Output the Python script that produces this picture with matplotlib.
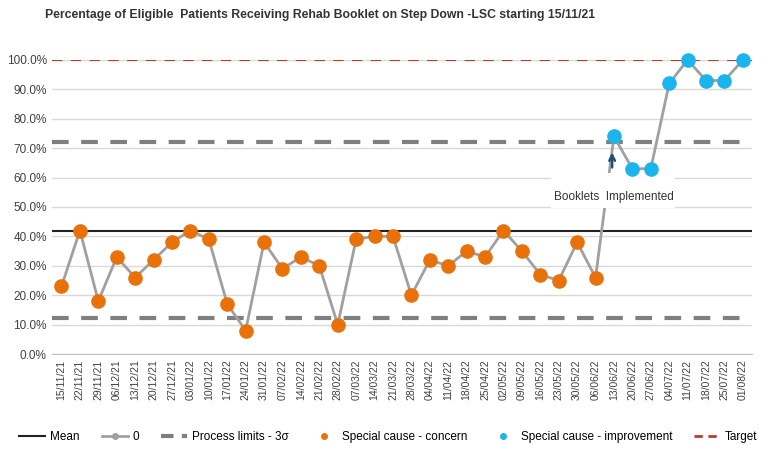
import matplotlib
matplotlib.use('Agg')
import matplotlib.pyplot as plt
from matplotlib.lines import Line2D
from matplotlib.patches import Rectangle

dates = ['15/11/21', '22/11/21', '29/11/21', '06/12/21', '13/12/21', '20/12/21', '27/12/21',
         '03/01/22', '10/01/22', '17/01/22', '24/01/22', '31/01/22', '07/02/22', '14/02/22',
         '21/02/22', '28/02/22', '07/03/22', '14/03/22', '21/03/22', '28/03/22', '04/04/22',
         '11/04/22', '18/04/22', '25/04/22', '02/05/22', '09/05/22', '16/05/22', '23/05/22',
         '30/05/22', '06/06/22', '13/06/22', '20/06/22', '27/06/22', '04/07/22', '11/07/22',
         '18/07/22', '25/07/22', '01/08/22']
pct = [0.23, 0.42, 0.18, 0.33, 0.26, 0.32, 0.38, 0.42, 0.39, 0.17, 0.08, 0.38, 0.29, 0.33,
       0.30, 0.10, 0.39, 0.40, 0.40, 0.20, 0.32, 0.30, 0.35, 0.33, 0.42, 0.35, 0.27, 0.25,
       0.38, 0.26, 0.74, 0.63, 0.63, 0.92, 1.00, 0.93, 0.93, 1.00]
# which points count as which special cause
concern = list(range(0, 30))
improvement = list(range(30, 38))

mean_val = 0.42
upper_limit = 0.72
lower_limit = 0.122
target = 1.0

plt.rcParams['font.family'] = ['Liberation Sans', 'DejaVu Sans']

fig = plt.figure(figsize=(7.69, 4.61), dpi=100)
ax = fig.add_axes([0.068, 0.232, 0.910, 0.638])

x = list(range(len(dates)))
ax.set_xlim(-0.5, len(dates) - 0.5)
ax.set_ylim(0, 1.0)

ax.axhline(mean_val, color='#222222', lw=1.5, zorder=3)
ax.axhline(upper_limit, color='#7f7f7f', lw=3, ls=(0, (4, 3)), zorder=3)
ax.axhline(lower_limit, color='#7f7f7f', lw=3, ls=(0, (4, 3)), zorder=3)
ax.axhline(target, color='#c0392b', lw=1.5, ls=(0, (5, 4)), zorder=3)

ax.plot(x, pct, color='#a0a0a0', lw=2, zorder=4, clip_on=False)
ax.plot([x[i] for i in concern], [pct[i] for i in concern], 'o', color='#e8710a',
        ms=9.5, zorder=6, clip_on=False)
ax.plot([x[i] for i in improvement], [pct[i] for i in improvement], 'o', color='#1cb4ec',
        ms=9.5, zorder=6, clip_on=False)

# annotation box hiding the lines behind it
ax.add_patch(Rectangle((26.6, 0.497), 6.7, 0.12, facecolor='white', edgecolor='none', zorder=5))
ax.text(30.0, 0.535, 'Booklets  Implemented', ha='center', va='center', fontsize=8.5,
        color='#333333', zorder=7)
ax.annotate('', xy=(29.9, 0.695), xytext=(29.9, 0.625),
            arrowprops=dict(arrowstyle='->', color='#1f4e79', lw=1.8), zorder=7)

ax.set_yticks([i / 10 for i in range(11)])
ax.set_yticklabels(['%.1f%%' % (i * 10) for i in range(11)], fontsize=8.5, color='#404040')
ax.set_xticks(x)
ax.set_xticklabels(dates, rotation=90, fontsize=7.5, color='#404040')
ax.grid(axis='y', color='#d9d9d9', lw=1)
ax.set_axisbelow(True)
for s in ['top', 'right', 'left']:
    ax.spines[s].set_visible(False)
ax.spines['bottom'].set_color('#bfbfbf')
ax.tick_params(length=0, pad=4)

fig.text(0.058, 0.967, 'Percentage of Eligible  Patients Receiving Rehab Booklet on Step Down -LSC starting 15/11/21',
         fontsize=8.8, fontweight='bold', color='#333333', va='center')

handles = [
    Line2D([], [], color='#222222', lw=1.5),
    Line2D([], [], color='#a0a0a0', lw=2, marker='o', ms=4),
    Line2D([], [], color='#7f7f7f', lw=3, ls=(0, (3, 2))),
    Line2D([], [], color='#e8710a', marker='o', ls='none', ms=4),
    Line2D([], [], color='#1cb4ec', marker='o', ls='none', ms=4),
    Line2D([], [], color='#c0392b', lw=2, ls=(0, (3, 2))),
]
labels = ['Mean', '0', 'Process limits - 3σ', 'Special cause - concern',
          'Special cause - improvement', 'Target']
fig.legend(handles, labels, loc='center', bbox_to_anchor=(0.505, 0.052), ncol=6,
           frameon=False, fontsize=8.5, handlelength=2.2, columnspacing=1.9, handletextpad=0.4)

fig.savefig('out.png', dpi=100)
